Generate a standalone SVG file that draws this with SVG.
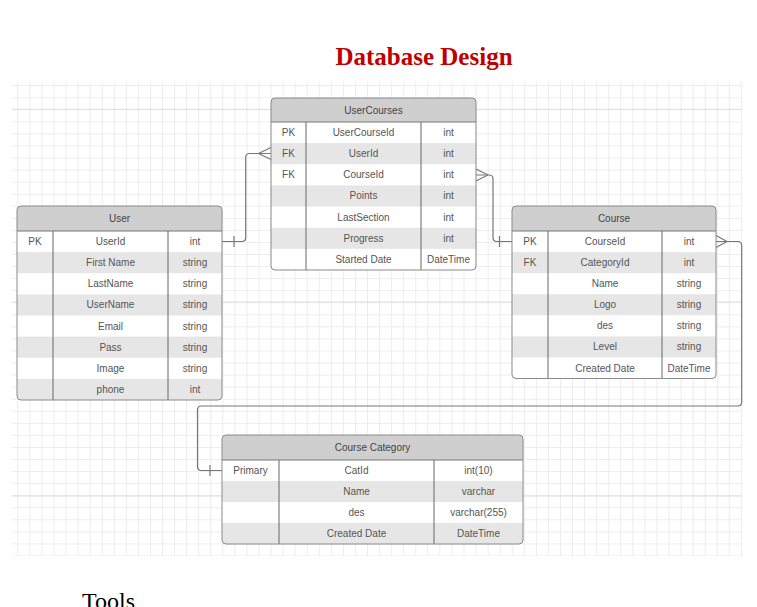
<svg xmlns="http://www.w3.org/2000/svg" width="757" height="607" viewBox="0 0 757 607">
<style>
.t{font-family:"Liberation Sans",Arial,sans-serif;font-size:10px;fill:#555;text-anchor:middle}
.h{font-family:"Liberation Sans",Arial,sans-serif;font-size:10px;fill:#444;text-anchor:middle}
.hd{fill:#cfcfcf}
.sh{fill:#e6e6e6}
.box{fill:none;stroke:#8a8a8a;stroke-width:1}
.sep{stroke:#777;stroke-width:1}
.col{stroke:#666;stroke-width:1}
.cn{fill:none;stroke:#777;stroke-width:1.2}
.maj{stroke:#dedede;stroke-width:1}
</style>
<defs>
<pattern id="grid" patternUnits="userSpaceOnUse" x="17.3" y="85.2" width="12.06" height="12.06">
<path d="M0,0.5 H12.06 M0.5,0 V12.06" fill="none" stroke="#ececec" stroke-width="1"/>
</pattern>
<clipPath id="cUC"><rect x="271" y="98" width="205" height="172" rx="4"/></clipPath>
<clipPath id="cU"><rect x="17" y="206" width="205" height="194" rx="4"/></clipPath>
<clipPath id="cC"><rect x="512" y="206" width="204" height="172.5" rx="4"/></clipPath>
<clipPath id="cCC"><rect x="222" y="435" width="301" height="109" rx="4"/></clipPath>
</defs>
<rect width="757" height="607" fill="#fff"/>
<text x="424" y="65" font-family="'Liberation Serif','Times New Roman',serif" font-size="25" font-weight="bold" fill="#c00000" text-anchor="middle">Database Design</text>
<g id="grid-bg">
<rect x="12" y="82" width="730" height="474" fill="url(#grid)"/>
<path class="maj" d="M12,109.3 H742 M12,302 H742 M12,496 H742"/>
</g>
<g id="connectors">
<path class="cn" d="M222,241.5 H241.7 Q245.7,241.5 245.7,237.5 V157.5 Q245.7,153.5 249.7,153.5 H271"/>
<path class="cn" d="M258.5,153.5 L271,147.5 M258.5,153.5 L271,159.5 M234,236 V247"/>
<path class="cn" d="M476,175 H489 Q493,175 493,179 V237.5 Q493,241.5 497,241.5 H512"/>
<path class="cn" d="M488,175 L476,169 M488,175 L476,181 M499.5,236 V247"/>
<path class="cn" d="M716,241.5 H737.7 Q741.7,241.5 741.7,245.5 V402 Q741.7,406 737.7,406 H201.5 Q197.5,406 197.5,410 V466.5 Q197.5,470.5 201.5,470.5 H222"/>
<path class="cn" d="M727,241.5 L716,235.5 M727,241.5 L716,247.5 M210,465 V476"/>
</g>
<g id="UserCourses">
<g clip-path="url(#cUC)">
<rect x="271" y="98" width="205" height="172" fill="#fff"/>
<rect class="hd" x="271" y="98" width="205" height="24"/>
<rect class="sh" x="271" y="143.1" width="205" height="21.1"/>
<rect class="sh" x="271" y="185.4" width="205" height="21.1"/>
<rect class="sh" x="271" y="227.7" width="205" height="21.1"/>
</g>
<path class="sep" d="M271,122 H476"/>
<path class="col" d="M306,122 V270 M421,122 V270"/>
<rect class="box" x="271" y="98" width="205" height="172" rx="4"/>
<text class="h" x="373.5" y="113.5">UserCourses</text>
<text class="t" x="288.5" y="136">PK</text><text class="t" x="363.5" y="136">UserCourseId</text><text class="t" x="448.5" y="136">int</text>
<text class="t" x="288.5" y="157">FK</text><text class="t" x="363.5" y="157">UserId</text><text class="t" x="448.5" y="157">int</text>
<text class="t" x="288.5" y="178.3">FK</text><text class="t" x="363.5" y="178.3">CourseId</text><text class="t" x="448.5" y="178.3">int</text>
<text class="t" x="363.5" y="199.4">Points</text><text class="t" x="448.5" y="199.4">int</text>
<text class="t" x="363.5" y="220.5">LastSection</text><text class="t" x="448.5" y="220.5">int</text>
<text class="t" x="363.5" y="241.7">Progress</text><text class="t" x="448.5" y="241.7">int</text>
<text class="t" x="363.5" y="262.8">Started Date</text><text class="t" x="448.5" y="262.8">DateTime</text>
</g>
<g id="User">
<g clip-path="url(#cU)">
<rect x="17" y="206" width="205" height="194" fill="#fff"/>
<rect class="hd" x="17" y="206" width="205" height="25"/>
<rect class="sh" x="17" y="252.1" width="205" height="21.1"/>
<rect class="sh" x="17" y="294.4" width="205" height="21.1"/>
<rect class="sh" x="17" y="336.6" width="205" height="21.1"/>
<rect class="sh" x="17" y="378.9" width="205" height="21.1"/>
</g>
<path class="sep" d="M17,231 H222"/>
<path class="col" d="M53,231 V400 M168,231 V400"/>
<rect class="box" x="17" y="206" width="205" height="194" rx="4"/>
<text class="h" x="119.5" y="221.5">User</text>
<text class="t" x="35" y="245">PK</text><text class="t" x="110.5" y="245">UserId</text><text class="t" x="195" y="245">int</text>
<text class="t" x="110.5" y="266.1">First Name</text><text class="t" x="195" y="266.1">string</text>
<text class="t" x="110.5" y="287.2">LastName</text><text class="t" x="195" y="287.2">string</text>
<text class="t" x="110.5" y="308.3">UserName</text><text class="t" x="195" y="308.3">string</text>
<text class="t" x="110.5" y="329.5">Email</text><text class="t" x="195" y="329.5">string</text>
<text class="t" x="110.5" y="350.6">Pass</text><text class="t" x="195" y="350.6">string</text>
<text class="t" x="110.5" y="371.7">Image</text><text class="t" x="195" y="371.7">string</text>
<text class="t" x="110.5" y="392.8">phone</text><text class="t" x="195" y="392.8">int</text>
</g>
<g id="Course">
<g clip-path="url(#cC)">
<rect x="512" y="206" width="204" height="172.5" fill="#fff"/>
<rect class="hd" x="512" y="206" width="204" height="25"/>
<rect class="sh" x="512" y="252.1" width="204" height="21.1"/>
<rect class="sh" x="512" y="294.2" width="204" height="21.1"/>
<rect class="sh" x="512" y="336.4" width="204" height="21.1"/>
</g>
<path class="sep" d="M512,231 H716"/>
<path class="col" d="M548,231 V378.5 M662,231 V378.5"/>
<rect class="box" x="512" y="206" width="204" height="172.5" rx="4"/>
<text class="h" x="614" y="221.5">Course</text>
<text class="t" x="530" y="245">PK</text><text class="t" x="605" y="245">CourseId</text><text class="t" x="689" y="245">int</text>
<text class="t" x="530" y="266.1">FK</text><text class="t" x="605" y="266.1">CategoryId</text><text class="t" x="689" y="266.1">int</text>
<text class="t" x="605" y="287.2">Name</text><text class="t" x="689" y="287.2">string</text>
<text class="t" x="605" y="308.3">Logo</text><text class="t" x="689" y="308.3">string</text>
<text class="t" x="605" y="329.3">des</text><text class="t" x="689" y="329.3">string</text>
<text class="t" x="605" y="350.4">Level</text><text class="t" x="689" y="350.4">string</text>
<text class="t" x="605" y="371.5">Created Date</text><text class="t" x="689" y="371.5">DateTime</text>
</g>
<g id="CourseCategory">
<g clip-path="url(#cCC)">
<rect x="222" y="435" width="301" height="109" fill="#fff"/>
<rect class="hd" x="222" y="435" width="301" height="25"/>
<rect class="sh" x="222" y="481" width="301" height="21"/>
<rect class="sh" x="222" y="523" width="301" height="21"/>
</g>
<path class="sep" d="M222,460 H523"/>
<path class="col" d="M279,460 V544 M434,460 V544"/>
<rect class="box" x="222" y="435" width="301" height="109" rx="4"/>
<text class="h" x="372.5" y="450.5">Course Category</text>
<text class="t" x="250.5" y="474">Primary</text><text class="t" x="356.5" y="474">CatId</text><text class="t" x="478.5" y="474">int(10)</text>
<text class="t" x="356.5" y="495">Name</text><text class="t" x="478.5" y="495">varchar</text>
<text class="t" x="356.5" y="516">des</text><text class="t" x="478.5" y="516">varchar(255)</text>
<text class="t" x="356.5" y="537">Created Date</text><text class="t" x="478.5" y="537">DateTime</text>
</g>
<text x="82" y="609" font-family="'Liberation Serif','Times New Roman',serif" font-size="24" fill="#000">Tools</text>
</svg>
